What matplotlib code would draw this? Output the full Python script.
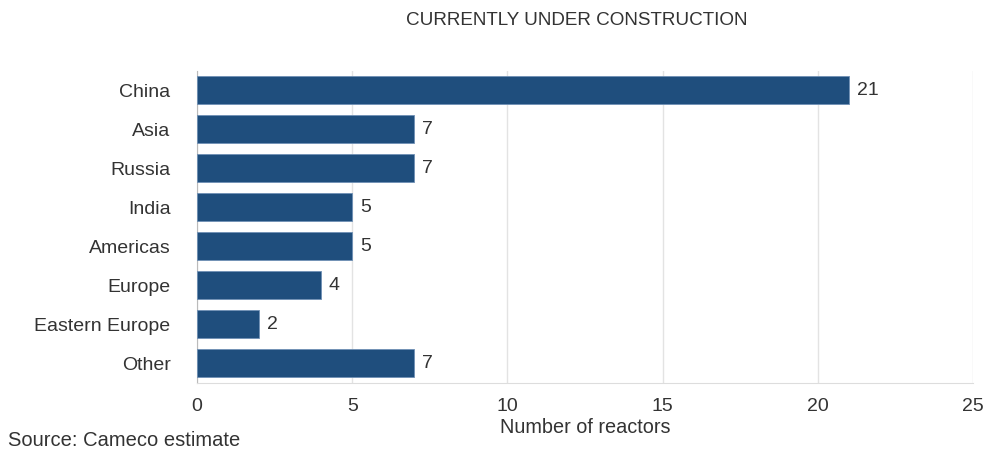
import matplotlib
matplotlib.use("Agg")
import matplotlib.pyplot as plt

categories = ["China", "Asia", "Russia", "India", "Americas", "Europe", "Eastern Europe", "Other"]
reactors = [21, 7, 7, 5, 5, 4, 2, 7]
xticks = [0, 5, 10, 15, 20, 25]

plt.rcParams['font.family'] = ['Liberation Sans', 'DejaVu Sans']
txt = "#333333"
fs = 14

fig = plt.figure(figsize=(9.85, 4.5), dpi=100)
ax = fig.add_axes([0.2, 0.15, 0.788, 0.6933])

ypos = list(range(len(categories)))
ax.barh(ypos, reactors, height=0.72, color="#1F4E7D", edgecolor="#6F90B5", linewidth=0.6, zorder=3)
for y, v in zip(ypos, reactors):
    ax.text(v + 0.25, y, str(v), va="center", ha="left", fontsize=fs, color=txt)

ax.set_ylim(len(categories) - 0.5, -0.5)
ax.set_xlim(0, 25)
ax.set_yticks(ypos)
ax.set_yticklabels(categories, fontsize=fs, color=txt)
ax.set_xticks(xticks)
ax.set_xticklabels([str(t) for t in xticks], fontsize=fs, color=txt)
ax.tick_params(axis="y", length=0, pad=19)
ax.tick_params(axis="x", length=0, pad=11)
ax.grid(axis="x", color="#E3E3E3", linewidth=1, zorder=0)
for s in ["top", "right"]:
    ax.spines[s].set_visible(False)
ax.spines["left"].set_color("#BBBBBB")
ax.spines["bottom"].set_color("#DDDDDD")
ax.set_xlabel("Number of reactors", fontsize=14.3, color=txt, labelpad=2)

fig.text(0.586, 0.955, "CURRENTLY UNDER CONSTRUCTION", ha="center", va="center", fontsize=13.6, color=txt)
fig.text(0.008, 0.022, "Source: Cameco estimate", ha="left", va="center", fontsize=14.5, color=txt)

fig.savefig("out.png", dpi=100, facecolor="white")
